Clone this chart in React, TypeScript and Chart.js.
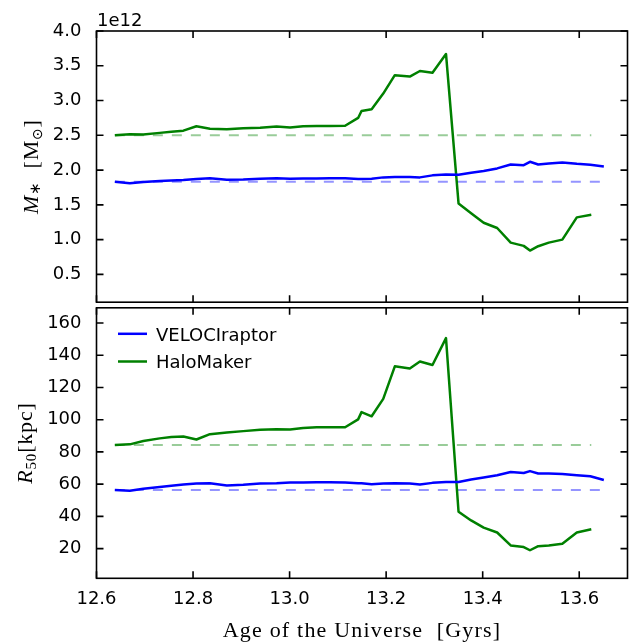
import React, { useEffect, useRef } from "react";
import { Chart, registerables } from "chart.js";
Chart.register(...registerables);

// ---------------- data ----------------
const SERIES_NAMES = ["VELOCIraptor", "HaloMaker"];
const TIMES_HM = [12.638, 12.669, 12.697, 12.731, 12.755, 12.78, 12.807, 12.835, 12.87, 12.904, 12.939, 12.973, 13.001, 13.028, 13.056, 13.083, 13.115, 13.142, 13.149, 13.17, 13.194, 13.218, 13.249, 13.27, 13.296, 13.324, 13.35, 13.376, 13.402, 13.43, 13.458, 13.485, 13.498, 13.515, 13.537, 13.565, 13.595, 13.625];
const TIMES_VR = [12.638, 12.669, 12.697, 12.731, 12.755, 12.78, 12.807, 12.835, 12.87, 12.904, 12.939, 12.973, 13.001, 13.028, 13.056, 13.083, 13.115, 13.142, 13.149, 13.17, 13.194, 13.218, 13.249, 13.27, 13.296, 13.324, 13.35, 13.376, 13.402, 13.43, 13.458, 13.485, 13.498, 13.515, 13.537, 13.565, 13.595, 13.623, 13.651];
// stellar mass in units of 1e12 Msun
const MSTAR_VR = [1.833, 1.81, 1.829, 1.843, 1.85, 1.857, 1.871, 1.881, 1.862, 1.864, 1.876, 1.881, 1.876, 1.878, 1.88, 1.881, 1.881, 1.871, 1.871, 1.876, 1.895, 1.9, 1.902, 1.895, 1.924, 1.938, 1.933, 1.962, 1.986, 2.024, 2.08, 2.071, 2.119, 2.08, 2.095, 2.11, 2.09, 2.076, 2.053];
const MSTAR_HM = [2.5, 2.515, 2.51, 2.535, 2.55, 2.567, 2.63, 2.595, 2.586, 2.6, 2.61, 2.625, 2.614, 2.63, 2.633, 2.633, 2.638, 2.75, 2.85, 2.875, 3.1, 3.365, 3.345, 3.425, 3.4, 3.67, 1.52, 1.38, 1.243, 1.167, 0.957, 0.91, 0.843, 0.905, 0.957, 1.0, 1.32, 1.357];
// half-mass radius in kpc
const R50_VR = [56.3, 55.9, 57.1, 58.3, 59.0, 59.8, 60.4, 60.6, 59.2, 59.6, 60.4, 60.5, 61.0, 61.0, 61.2, 61.2, 61.0, 60.6, 60.5, 60.0, 60.4, 60.6, 60.4, 59.8, 60.8, 61.4, 61.4, 62.9, 64.1, 65.5, 67.5, 66.9, 68.1, 66.6, 66.6, 66.3, 65.5, 64.9, 62.6];
const R50_HM = [84.3, 84.7, 86.8, 88.4, 89.2, 89.6, 87.7, 91.0, 92.0, 92.9, 93.7, 94.1, 93.9, 94.9, 95.3, 95.3, 95.3, 100.2, 104.7, 102.1, 112.9, 133.1, 131.8, 136.1, 133.9, 150.6, 42.9, 37.5, 33.0, 30.0, 22.0, 21.0, 19.0, 21.5, 22.0, 23.0, 30.0, 32.0];

const X_TICKS = [12.6, 12.8, 13.0, 13.2, 13.4, 13.6];
const MSTAR_TICKS = [0.5, 1.0, 1.5, 2.0, 2.5, 3.0, 3.5, 4.0];
const R50_TICKS = [20, 40, 60, 80, 100, 120, 140, 160];
const X_RANGE = [12.6, 13.7];
const MSTAR_RANGE = [0.1, 4.0];
const R50_RANGE = [1.6, 169.4];
const MSTAR_OFFSET_TEXT = "1e12";
const X_TITLE = "Age of the Universe  [Gyrs]";

// ---------------- styles ----------------
const COLORS = ["#0000ff", "#008000"];
const DASH_COLORS = ["rgba(0,0,255,0.42)", "rgba(0,128,0,0.40)"];
const SANS = '"DejaVu Sans", sans-serif';
const SERIF = '"Liberation Serif", serif';
const TICK_LEN = 7;

function solid(xs: number[], ys: number[], color: string, label: string) {
  return {
    label,
    data: xs.map((x, i) => ({ x, y: ys[i] })),
    borderColor: color,
    borderWidth: 2.5,
    pointRadius: 0,
    tension: 0,
    fill: false,
    borderJoinStyle: "round" as const,
  };
}
function dashed(xs: number[], ys: number[], color: string) {
  return {
    label: "_ref",
    data: [
      { x: xs[0], y: ys[0] },
      { x: xs[xs.length - 1], y: ys[0] },
    ],
    borderColor: color,
    borderWidth: 2,
    borderDash: [10, 9],
    pointRadius: 0,
    fill: false,
  };
}

const framePlugin = {
  id: "mplFrame",
  afterDraw(chart: any) {
    const { ctx, chartArea: a } = chart;
    const xs = chart.scales.x;
    const ys = chart.scales.y;
    ctx.save();
    ctx.strokeStyle = "#000";
    ctx.lineWidth = 1.6;
    ctx.beginPath();
    X_TICKS.forEach((v) => {
      const p = xs.getPixelForValue(v);
      ctx.moveTo(p, a.bottom);
      ctx.lineTo(p, a.bottom - TICK_LEN);
      ctx.moveTo(p, a.top);
      ctx.lineTo(p, a.top + TICK_LEN);
    });
    ys.ticks.forEach((t: any) => {
      const p = ys.getPixelForValue(t.value);
      ctx.moveTo(a.left, p);
      ctx.lineTo(a.left + TICK_LEN, p);
      ctx.moveTo(a.right, p);
      ctx.lineTo(a.right - TICK_LEN, p);
    });
    ctx.stroke();
    ctx.strokeRect(a.left, a.top, a.right - a.left, a.bottom - a.top);
    ctx.restore();
  },
};

type Piece = { t: string; font: string; dy: number };
function drawPieces(ctx: CanvasRenderingContext2D, pieces: Piece[], cx: number, cy: number, rotate: boolean, spacing: number) {
  ctx.save();
  ctx.translate(cx, cy);
  if (rotate) ctx.rotate(-Math.PI / 2);
  (ctx as any).letterSpacing = spacing + "px";
  const widths = pieces.map((p) => {
    ctx.font = p.font;
    return ctx.measureText(p.t).width;
  });
  const total = widths.reduce((s, w) => s + w, 0);
  let x = -total / 2;
  ctx.textAlign = "left";
  ctx.textBaseline = "alphabetic";
  ctx.fillStyle = "#000";
  pieces.forEach((p, i) => {
    ctx.font = p.font;
    ctx.fillText(p.t, x, p.dy);
    x += widths[i];
  });
  ctx.restore();
}

function baseOptions(yRange: number[], yTicks: number[], yFmt: (v: number) => string, padding: any, xHeight: number, showX: boolean) {
  return {
    responsive: false,
    maintainAspectRatio: false,
    animation: false,
    layout: { padding },
    plugins: { legend: { display: false }, tooltip: { enabled: false } },
    scales: {
      x: {
        type: "linear",
        min: X_RANGE[0],
        max: X_RANGE[1],
        afterBuildTicks: (s: any) => {
          s.ticks = X_TICKS.map((v) => ({ value: v }));
        },
        ticks: { display: showX, color: "#000", padding: 2, font: { family: SANS, size: 18 }, callback: (v: number) => v.toFixed(1), maxRotation: 0, autoSkip: false },
        grid: { display: false },
        border: { display: false },
        afterFit: (s: any) => {
          s.height = xHeight;
        },
      },
      y: {
        type: "linear",
        min: yRange[0],
        max: yRange[1],
        afterBuildTicks: (s: any) => {
          s.ticks = yTicks.map((v) => ({ value: v }));
        },
        ticks: { color: "#000", padding: 7, font: { family: SANS, size: 18 }, callback: (v: number) => yFmt(v), autoSkip: false },
        grid: { display: false },
        border: { display: false },
        afterFit: (s: any) => {
          s.width = 96.5;
        },
      },
    },
  };
}

export default function App() {
  const topRef = useRef<HTMLCanvasElement>(null);
  const botRef = useRef<HTMLCanvasElement>(null);

  useEffect(() => {
    const topExtras = {
      id: "topExtras",
      afterDraw(chart: any) {
        const { ctx, chartArea: a } = chart;
        ctx.save();
        ctx.fillStyle = "#000";
        ctx.font = `18px ${SANS}`;
        ctx.textAlign = "left";
        ctx.textBaseline = "alphabetic";
        ctx.fillText(MSTAR_OFFSET_TEXT, a.left + 0.5, a.top - 5);
        ctx.restore();
        drawPieces(
          ctx,
          [
            { t: "M", font: `italic 22px ${SERIF}`, dy: 0 },
            { t: "∗", font: `15px ${SERIF}`, dy: 2 },
            { t: "  [M", font: `22px ${SERIF}`, dy: 0 },
            { t: "⊙", font: `14px "DejaVu Sans"`, dy: 4 },
            { t: "]", font: `22px ${SERIF}`, dy: 0 },
          ],
          38,
          (a.top + a.bottom) / 2,
          true,
          0.8
        );
      },
    };
    const botExtras = {
      id: "botExtras",
      afterDraw(chart: any) {
        const { ctx, chartArea: a } = chart;
        drawPieces(
          ctx,
          [
            { t: "R", font: `italic 22px ${SERIF}`, dy: 0 },
            { t: "50", font: `15px ${SERIF}`, dy: 4 },
            { t: "[kpc]", font: `22px ${SERIF}`, dy: 0 },
          ],
          32,
          (a.top + a.bottom) / 2,
          true,
          0.8
        );
        drawPieces(ctx, [{ t: X_TITLE, font: `22px ${SERIF}`, dy: 0 }], (a.left + a.right) / 2, a.bottom + 58.7, false, 1.2);
        // legend
        ctx.save();
        ctx.font = `18px ${SANS}`;
        ctx.textAlign = "left";
        ctx.textBaseline = "alphabetic";
        SERIES_NAMES.forEach((name, i) => {
          const y = a.top + 26 + i * 27.7;
          ctx.strokeStyle = COLORS[i];
          ctx.lineWidth = 2.5;
          ctx.beginPath();
          ctx.moveTo(a.left + 21.5, y);
          ctx.lineTo(a.left + 50.5, y);
          ctx.stroke();
          ctx.fillStyle = "#000";
          ctx.fillText(name, a.left + 59.5, y + 6.7);
        });
        ctx.restore();
      },
    };

    const top = new Chart(topRef.current as HTMLCanvasElement, {
      type: "line",
      data: {
        datasets: [
          solid(TIMES_VR, MSTAR_VR, COLORS[0], SERIES_NAMES[0]),
          solid(TIMES_HM, MSTAR_HM, COLORS[1], SERIES_NAMES[1]),
          dashed(TIMES_VR, MSTAR_VR, DASH_COLORS[0]),
          dashed(TIMES_HM, MSTAR_HM, DASH_COLORS[1]),
        ],
      },
      options: baseOptions(MSTAR_RANGE, MSTAR_TICKS, (v) => v.toFixed(1), { top: 31, right: 2.5, bottom: 16, left: 0 }, 0, false) as any,
      plugins: [framePlugin, topExtras],
    });
    const bot = new Chart(botRef.current as HTMLCanvasElement, {
      type: "line",
      data: {
        datasets: [
          solid(TIMES_VR, R50_VR, COLORS[0], SERIES_NAMES[0]),
          solid(TIMES_HM, R50_HM, COLORS[1], SERIES_NAMES[1]),
          dashed(TIMES_VR, R50_VR, DASH_COLORS[0]),
          dashed(TIMES_HM, R50_HM, DASH_COLORS[1]),
        ],
      },
      options: baseOptions(R50_RANGE, R50_TICKS, (v) => String(v), { top: 14, right: 2.5, bottom: 0, left: 0 }, 63.7, true) as any,
      plugins: [framePlugin, botExtras],
    });
    return () => {
      top.destroy();
      bot.destroy();
    };
  }, []);

  return (
    <div style={{ position: "absolute", left: 0, top: 0, width: 630, height: 642, background: "#fff" }}>
      <canvas ref={topRef} width={630} height={320} style={{ position: "absolute", left: 0, top: 0 }} />
      <canvas ref={botRef} width={630} height={352} style={{ position: "absolute", left: 0, top: 290 }} />
    </div>
  );
}
